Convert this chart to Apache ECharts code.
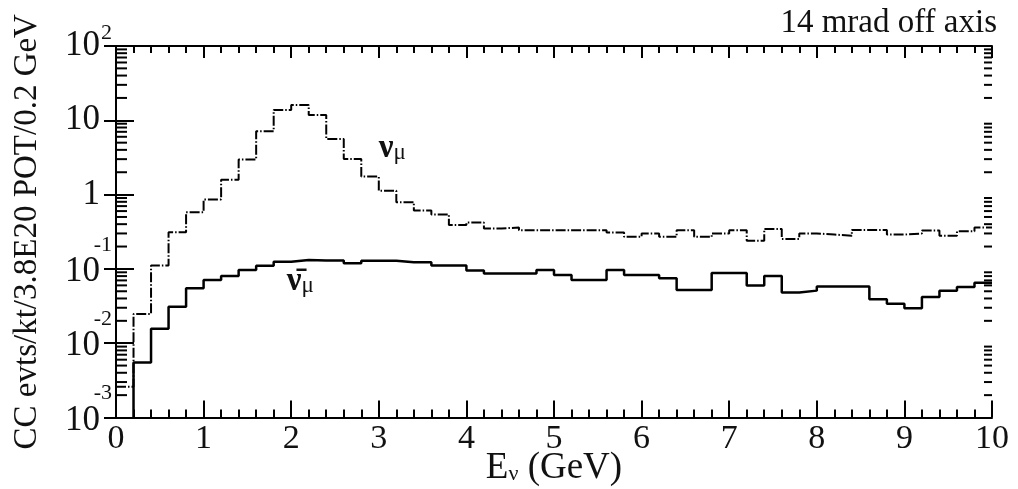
<!DOCTYPE html>
<html><head><meta charset="utf-8">
<script src="https://cdn.jsdelivr.net/npm/echarts@6/dist/echarts.min.js"></script>
<style>html,body{margin:0;padding:0;background:#fff}#c{width:1018px;height:489px}</style>
</head><body><div id="c"></div>
<script>
// lower edges of the 0.2 GeV bins
const binEdges = [0.0,0.2,0.4,0.6,0.8,1.0,1.2,1.4,1.6,1.8,2.0,2.2,2.4,2.6,2.8,3.0,3.2,3.4,3.6,3.8,
  4.0,4.2,4.4,4.6,4.8,5.0,5.2,5.4,5.6,5.8,6.0,6.2,6.4,6.6,6.8,7.0,7.2,7.4,7.6,7.8,
  8.0,8.2,8.4,8.6,8.8,9.0,9.2,9.4,9.6,9.8];
const xMax = 10;
// nu_mu CC events per bin (dash-dot)
const numu = [0.0026,0.0248,0.111,0.311,0.578,0.857,1.59,2.96,7.11,13.8,16.1,11.8,5.62,3.02,1.75,1.13,0.79,0.61,0.54,0.39,
  0.42,0.35,0.36,0.33,0.33,0.33,0.33,0.33,0.31,0.27,0.30,0.27,0.33,0.27,0.30,0.33,0.24,0.345,0.253,0.30,
  0.29,0.28,0.334,0.334,0.29,0.30,0.328,0.28,0.32,0.36];
// anti nu_mu CC events per bin (solid)
const numubar = [0,0.0055,0.0156,0.031,0.055,0.071,0.080,0.097,0.110,0.125,0.132,0.130,0.130,0.119,0.129,0.129,0.123,0.123,0.111,0.111,
  0.095,0.087,0.087,0.087,0.097,0.083,0.071,0.071,0.097,0.083,0.083,0.075,0.052,0.052,0.088,0.088,0.060,0.080,0.048,0.051,
  0.058,0.058,0.058,0.039,0.034,0.0295,0.042,0.051,0.057,0.065];
const yMin = 0.001, yMax = 100;
const yMinorTicks = [];
[0.001,0.01,0.1,1,10].forEach(d => { for (let k = 2; k <= 9; k++) yMinorTicks.push(d * k); });

const FONT = 'Liberation Serif';
const floorVal = 1e-5; // empty bins drawn below the axis
function histPoints(vals) {
  const pts = binEdges.map((x, i) => [x, vals[i] > 0 ? vals[i] : floorVal]);
  pts.push([xMax, vals[vals.length - 1] > 0 ? vals[vals.length - 1] : floorVal]);
  return pts;
}

const chart = echarts.init(document.getElementById('c'), null, {renderer: 'canvas'});
const axisLineStyle = {color: '#000', width: 2};
const tickLine = {color: '#000', width: 2};

function yLabel(v) {
  const e = Math.round(Math.log10(v));
  if (e === 0) return '{n|1}';
  if (e === 1) return '{n|10}';
  if (e === 2) return '{p|2}\n{m|10}\n{p| }';
  return '{e|' + e + '}\n{n|10}\n{f| }';
}

chart.setOption({
  animation: false,
  title: {
    text: '14 mrad off axis', right: 16, top: 2, padding: [5, 5, 5, 5],
    textStyle: {fontFamily: FONT, fontSize: 33, fontWeight: 'normal', color: '#111'}
  },
  grid: {left: 116, right: 26, top: 46, bottom: 71.5, outerBoundsMode: 'none', containLabel: false},
  xAxis: [{
    type: 'value', min: 0, max: xMax, interval: 1, position: 'bottom',
    axisLine: {lineStyle: axisLineStyle},
    axisTick: {inside: true, length: 17, lineStyle: tickLine},
    minorTick: {show: true, splitNumber: 5, length: 8, lineStyle: tickLine},
    splitLine: {show: false}, minorSplitLine: {show: false},
    axisLabel: {fontFamily: FONT, fontSize: 34, color: '#111', margin: 5, hideOverlap: false, showMinLabel: true, showMaxLabel: true},
    name: '{a|E}{s|ν}{a| (GeV)}', nameLocation: 'middle', nameGap: 34, nameMoveOverlap: false,
    nameTextStyle: {
      fontFamily: FONT, color: '#111',
      rich: {
        a: {fontFamily: FONT, fontSize: 37, lineHeight: 34, color: '#111'},
        s: {fontFamily: FONT, fontSize: 22, lineHeight: 12, verticalAlign: 'bottom', color: '#111'}
      }
    }
  }, {
    type: 'value', min: 0, max: xMax, interval: 1, position: 'top',
    axisLine: {lineStyle: axisLineStyle},
    axisTick: {inside: true, length: 12, lineStyle: tickLine},
    minorTick: {show: true, splitNumber: 5, length: 7, lineStyle: tickLine},
    splitLine: {show: false}, minorSplitLine: {show: false},
    axisLabel: {show: false}
  }],
  yAxis: [{
    type: 'log', logBase: 10, min: yMin, max: yMax, position: 'left',
    axisLine: {lineStyle: axisLineStyle},
    axisTick: {inside: true, length: 18, lineStyle: tickLine},
    splitLine: {show: false},
    axisLabel: {
      margin: 4, formatter: yLabel, color: '#111', hideOverlap: false, showMinLabel: true, showMaxLabel: true,
      rich: {
        n: {fontFamily: FONT, fontSize: 35, lineHeight: 36, padding: [0, 12, 0, 0], color: '#111'},
        m: {fontFamily: FONT, fontSize: 35, lineHeight: 4, padding: [0, 12, 0, 0], color: '#111'},
        e: {fontFamily: FONT, fontSize: 22, lineHeight: 18, color: '#111'},
        f: {fontFamily: FONT, fontSize: 22, lineHeight: 12, color: '#111'},
        p: {fontFamily: FONT, fontSize: 22, lineHeight: 22, color: '#111'}
      }
    },
    name: 'CC evts/kt/3.8E20 POT/0.2 GeV', nameLocation: 'middle', nameGap: 72, nameRotate: 90, nameMoveOverlap: false,
    nameTextStyle: {fontFamily: FONT, fontSize: 33, color: '#111'}
  }, {
    type: 'log', logBase: 10, min: yMin, max: yMax, position: 'right',
    axisLine: {lineStyle: axisLineStyle},
    axisTick: {inside: true, length: 12, lineStyle: tickLine},
    splitLine: {show: false},
    axisLabel: {show: false}
  }],
  series: [{
    name: 'numu', type: 'line', step: 'end', xAxisIndex: 0, yAxisIndex: 0,
    data: histPoints(numu), showSymbol: false, symbol: 'none', clip: true,
    lineStyle: {color: '#000', width: 2, type: [10, 2, 1.5, 2]}
  }, {
    name: 'numubar', type: 'line', step: 'end', xAxisIndex: 0, yAxisIndex: 0,
    data: histPoints(numubar), showSymbol: false, symbol: 'none', clip: true,
    lineStyle: {color: '#000', width: 2.5}
  }, {
    name: 'minorTicks', type: 'custom', xAxisIndex: 0, yAxisIndex: 0, silent: true, clip: false,
    data: yMinorTicks.map(v => [0, v]),
    renderItem: function (params, api) {
      const v = api.value(1);
      const l = api.coord([0, v]);
      const r = api.coord([xMax, v]);
      return {type: 'group', children: [
        {type: 'line', shape: {x1: l[0], y1: l[1], x2: l[0] + 11, y2: l[1]}, style: {stroke: '#000', lineWidth: 2}},
        {type: 'line', shape: {x1: r[0] - 8, y1: r[1], x2: r[0], y2: r[1]}, style: {stroke: '#000', lineWidth: 2}}
      ]};
    }
  }]
});

// series labels placed at data coordinates
const labNumu = chart.convertToPixel({xAxisIndex: 0, yAxisIndex: 0}, [3.0, 4.2]);
const labNumubar = chart.convertToPixel({xAxisIndex: 0, yAxisIndex: 0}, [1.95, 0.068]);
const labRich = {
  n: {fontFamily: FONT, fontSize: 33, fontWeight: 'bold', lineHeight: 32, fill: '#111'},
  m: {fontFamily: FONT, fontSize: 23, lineHeight: 14, verticalAlign: 'bottom', fill: '#111'}
};
chart.setOption({
  graphic: [
    {type: 'text', x: labNumu[0], y: labNumu[1], style: {text: '{n|ν}{m|μ}', rich: labRich, align: 'left', verticalAlign: 'middle'}},
    {type: 'text', x: labNumubar[0], y: labNumubar[1], style: {text: '{n|ν̄}{m|μ}', rich: labRich, align: 'left', verticalAlign: 'middle'}}
  ]
});
</script></body></html>
